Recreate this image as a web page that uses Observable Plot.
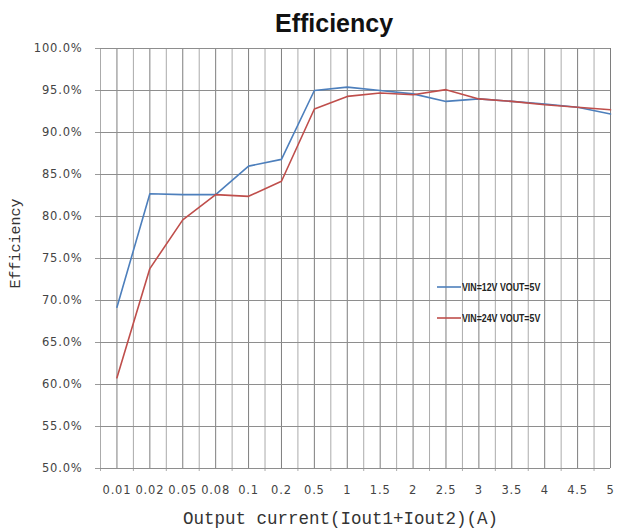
<!DOCTYPE html>
<html>
<head>
<meta charset="utf-8">
<script src="https://cdn.jsdelivr.net/npm/d3@7"></script>
<script src="https://cdn.jsdelivr.net/npm/@observablehq/plot@0.6"></script>
<style>
  html, body { margin: 0; padding: 0; background: #fff; }
  #wrap { position: relative; width: 623px; height: 530px; overflow: hidden; }
  #title { height: 36px; position: relative; }
  #title span { position: absolute; left: 275px; top: 9px; line-height: 1;
    font: bold 25px "Liberation Sans", Arial, sans-serif; color: #111; white-space: nowrap; }
  #legend { position: absolute; left: 437px; top: 279px; font: bold 11px "Liberation Sans", Arial, sans-serif; color: #222; }
  #legend .row { display: flex; align-items: center; height: 16px; margin-bottom: 15px; white-space: nowrap; }
  #legend svg { display: block; margin-right: 1px; }
  #legend span { display: inline-block; transform: scaleX(0.8); transform-origin: left center; }
  svg g.ticklab text { letter-spacing: 0.8px; }
</style>
</head>
<body>
<div id="wrap">
  <div id="title"><span>Efficiency</span></div>
  <div id="chart"></div>
  <div id="legend"></div>
</div>
<script>
const xLabels = ["0.01","0.02","0.05","0.08","0.1","0.2","0.5","1","1.5","2","2.5","3","3.5","4","4.5","5"];
const vin12 = [69.2, 82.7, 82.6, 82.6, 86.0, 86.8, 95.0, 95.4, 95.0, 94.6, 93.7, 94.0, 93.7, 93.4, 93.0, 92.2];
const vin24 = [60.8, 73.8, 79.6, 82.6, 82.4, 84.2, 92.8, 94.3, 94.7, 94.5, 95.1, 94.0, 93.7, 93.3, 93.0, 92.7];
const seriesNames = ["VIN=12V VOUT=5V", "VIN=24V VOUT=5V"];
const seriesColors = ["#4d7fbc", "#bf4e4b"];
const yTicks = [50, 55, 60, 65, 70, 75, 80, 85, 90, 95, 100];
const yLabel = "Efficiency";
const xLabel = "Output current(Iout1+Iout2)(A)";

const rows = [];
xLabels.forEach((c, i) => {
  rows.push({i, cat: c, v: vin12[i], s: seriesNames[0]});
});
xLabels.forEach((c, i) => {
  rows.push({i, cat: c, v: vin24[i], s: seriesNames[1]});
});
const idx = xLabels.map((_, i) => i);
const halfIdx = xLabels.map((_, i) => i - 0.5);

const tickFont = '"DejaVu Sans", Verdana, sans-serif';
const monoFont = '"Liberation Mono", "Courier New", monospace';
const chart = Plot.plot({
  width: 623,
  height: 494,
  marginTop: 12,
  marginBottom: 62,
  marginLeft: 100,
  marginRight: 13,
  style: {background: "#fff", overflow: "visible"},
  x: {type: "linear", domain: [-0.5, 15], axis: null},
  y: {domain: [50, 100], axis: null},
  color: {domain: seriesNames, range: seriesColors},
  marks: [
    Plot.ruleX(halfIdx, {x: d => d, stroke: "#ababab", strokeWidth: 1, insetBottom: -3}),
    Plot.ruleX(idx, {x: d => d, stroke: "#7e7e7e", strokeWidth: 1}),
    Plot.ruleY(yTicks, {y: d => d, stroke: "#8e8e8e", strokeWidth: 1}),
    Plot.ruleY(yTicks, {y: d => d, x1: () => -0.5, x2: () => -0.5, insetLeft: -5, stroke: "#9a9a9a"}),
    Plot.text(yTicks, {y: d => d, frameAnchor: "left", textAnchor: "end", dx: -18,
      text: d => d.toFixed(1) + "%", fontSize: 11.5, fontFamily: tickFont, fill: "#444", className: "ticklab"}),
    Plot.text(idx, {x: d => d, frameAnchor: "bottom", lineAnchor: "top", dy: 17,
      text: i => xLabels[i], fontSize: 11.5, fontFamily: tickFont, fill: "#444", className: "ticklab"}),
    Plot.line(rows, {x: "i", y: "v", z: "s", stroke: "s", strokeWidth: 1.6}),
    Plot.text([yLabel], {text: d => d, frameAnchor: "left", textAnchor: "middle", dx: -85, dy: -15, rotate: -90,
      fontFamily: monoFont, fontSize: 15, fill: "#333"}),
    Plot.text([xLabel], {text: d => d, frameAnchor: "bottom", dx: -15, dy: 55,
      fontFamily: monoFont, fontSize: 17.5, fill: "#333"})
  ]
});
document.getElementById("chart").appendChild(chart);

const legend = document.getElementById("legend");
seriesNames.forEach((name, k) => {
  const row = document.createElement("div");
  row.className = "row";
  row.innerHTML = `<svg width="24" height="4"><line x1="0" x2="24" y1="2" y2="2" stroke="${seriesColors[k]}" stroke-width="1.6"/></svg><span>${name}</span>`;
  legend.appendChild(row);
});
</script>
</body>
</html>
